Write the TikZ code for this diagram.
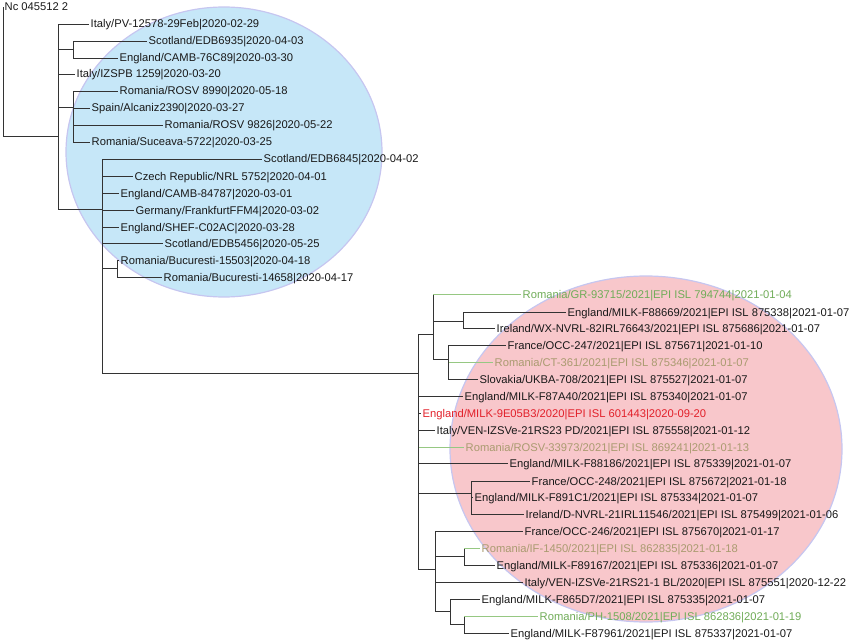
\documentclass[tikz,border=0pt]{standalone}
\usepackage{fontspec}
\setmainfont{Liberation Sans}
\usepackage{tikz}
\definecolor{bluefill}{RGB}{198,231,248}
\definecolor{redfill}{RGB}{248,199,203}
\definecolor{rimcol}{RGB}{198,198,240}
\definecolor{leafgreen}{RGB}{112,172,88}
\definecolor{leaftan}{RGB}{170,155,112}
\definecolor{leafred}{RGB}{226,32,42}
\definecolor{linegreen}{RGB}{150,200,130}

\begin{document}
\begin{tikzpicture}[x=1pt, y=-1pt,
        leaf/.style={anchor=west, inner xsep=1.5pt, inner ysep=0pt, text height=8pt, text depth=0pt, font=\fontsize{11.2}{13}\selectfont, text=black!90},
        branch/.style={draw=black!80, line width=0.7pt},
        greenbranch/.style={draw=linegreen, line width=0.7pt}]
        \useasboundingbox (0, 0) rectangle (850, 639);
        % the two clusters
        \draw [fill=bluefill, draw=rimcol, line width=1.2pt] (224, 152) ellipse [x radius=158pt, y radius=145pt];
        \draw [fill=redfill, draw=rimcol, line width=1.2pt] (646, 449) ellipse [x radius=196pt, y radius=173pt];
        % inner nodes
        \coordinate (N0) at (3, 72);
        \coordinate (N1) at (58, 136);
        \coordinate (N2) at (73, 49);
        \coordinate (N3) at (73, 107);
        \coordinate (N4) at (102, 209);
        \coordinate (N6) at (117, 268);
        \coordinate (N7) at (418, 373);
        \coordinate (N8) at (433, 334);
        \coordinate (N9) at (463, 321);
        \coordinate (N10) at (448, 359);
        \coordinate (N11) at (471, 493);
        \coordinate (N12) at (435, 569);
        \coordinate (N13) at (464, 556);
        \coordinate (N14) at (450, 611);
        \coordinate (N15) at (464, 624);
        % 2020 leaves
        \node [leaf] (B0) at (3, 7) {Nc 045512 2};
        \node [leaf] (B1) at (89, 24) {Italy/PV-12578-29Feb|2020-02-29};
        \node [leaf] (B2) at (147, 41) {Scotland/EDB6935|2020-04-03};
        \node [leaf] (B3) at (118, 58) {England/CAMB-76C89|2020-03-30};
        \node [leaf] (B4) at (75, 74) {Italy/IZSPB 1259|2020-03-20};
        \node [leaf] (B5) at (118, 91) {Romania/ROSV 8990|2020-05-18};
        \node [leaf] (B6) at (90, 108) {Spain/Alcaniz2390|2020-03-27};
        \node [leaf] (B7) at (163, 125) {Romania/ROSV 9826|2020-05-22};
        \node [leaf] (B8) at (90, 142) {Romania/Suceava-5722|2020-03-25};
        \node [leaf] (B9) at (262, 159) {Scotland/EDB6845|2020-04-02};
        \node [leaf] (B10) at (133, 176) {Czech Republic/NRL 5752|2020-04-01};
        \node [leaf] (B11) at (119, 193) {England/CAMB-84787|2020-03-01};
        \node [leaf] (B12) at (134, 210) {Germany/FrankfurtFFM4|2020-03-02};
        \node [leaf] (B13) at (119, 227) {England/SHEF-C02AC|2020-03-28};
        \node [leaf] (B14) at (163, 243) {Scotland/EDB5456|2020-05-25};
        \node [leaf] (B15) at (119, 260) {Romania/Bucuresti-15503|2020-04-18};
        \node [leaf] (B16) at (162, 277) {Romania/Bucuresti-14658|2020-04-17};
        % 2021 leaves
        \node [leaf, text=leafgreen] (R1) at (521, 294) {Romania/GR-93715/2021|EPI ISL 794744|2021-01-04};
        \node [leaf] (R2) at (566, 312) {England/MILK-F88669/2021|EPI ISL 875338|2021-01-07};
        \node [leaf] (R3) at (495, 328) {Ireland/WX-NVRL-82IRL76643/2021|EPI ISL 875686|2021-01-07};
        \node [leaf] (R4) at (506, 345) {France/OCC-247/2021|EPI ISL 875671|2021-01-10};
        \node [leaf, text=leaftan] (R5) at (493, 362) {Romania/CT-361/2021|EPI ISL 875346|2021-01-07};
        \node [leaf] (R6) at (478, 379) {Slovakia/UKBA-708/2021|EPI ISL 875527|2021-01-07};
        \node [leaf] (R7) at (463, 396) {England/MILK-F87A40/2021|EPI ISL 875340|2021-01-07};
        \node [leaf, text=leafred] (R8) at (421, 413) {England/MILK-9E05B3/2020|EPI ISL 601443|2020-09-20};
        \node [leaf] (R9) at (435, 430) {Italy/VEN-IZSVe-21RS23 PD/2021|EPI ISL 875558|2021-01-12};
        \node [leaf, text=leaftan] (R10) at (464, 447) {Romania/ROSV-33973/2021|EPI ISL 869241|2021-01-13};
        \node [leaf] (R11) at (508, 463) {England/MILK-F88186/2021|EPI ISL 875339|2021-01-07};
        \node [leaf] (R12) at (530, 481) {France/OCC-248/2021|EPI ISL 875672|2021-01-18};
        \node [leaf] (R13) at (473, 497) {England/MILK-F891C1/2021|EPI ISL 875334|2021-01-07};
        \node [leaf] (R14) at (524, 514) {Ireland/D-NVRL-21IRL11546/2021|EPI ISL 875499|2021-01-06};
        \node [leaf] (R15) at (523, 531) {France/OCC-246/2021|EPI ISL 875670|2021-01-17};
        \node [leaf, text=leaftan] (R16) at (480, 548) {Romania/IF-1450/2021|EPI ISL 862835|2021-01-18};
        \node [leaf] (R17) at (495, 565) {England/MILK-F89167/2021|EPI ISL 875336|2021-01-07};
        \node [leaf] (R18) at (523, 582) {Italy/VEN-IZSVe-21RS21-1 BL/2020|EPI ISL 875551|2020-12-22};
        \node [leaf] (R19) at (480, 599) {England/MILK-F865D7/2021|EPI ISL 875335|2021-01-07};
        \node [leaf, text=leafgreen] (R20) at (538, 616) {Romania/PH-1508/2021|EPI ISL 862836|2021-01-19};
        \node [leaf] (R21) at (509, 633) {England/MILK-F87961/2021|EPI ISL 875337|2021-01-07};
        % branches
        \draw [branch] (N0) |- (B0.west);
        \draw [branch] (N0) |- (N1);
        \draw [branch] (N1) |- (B1.west);
        \draw [branch] (N1) |- (N2);
        \draw [branch] (N2) |- (B2.west);
        \draw [branch] (N2) |- (B3.west);
        \draw [branch] (N1) |- (B4.west);
        \draw [branch] (N1) |- (N3);
        \draw [branch] (N3) |- (B5.west);
        \draw [branch] (N3) |- (B6.west);
        \draw [branch] (N3) |- (B7.west);
        \draw [branch] (N3) |- (B8.west);
        \draw [branch] (N1) |- (N4);
        \draw [branch] (N4) |- (B9.west);
        \draw [branch] (N4) |- (B10.west);
        \draw [branch] (N4) |- (B11.west);
        \draw [branch] (N4) |- (B12.west);
        \draw [branch] (N4) |- (B13.west);
        \draw [branch] (N4) |- (B14.west);
        \draw [branch] (N4) |- (N6);
        \draw [branch] (N6) |- (B15.west);
        \draw [branch] (N6) |- (B16.west);
        \draw [branch] (N4) |- (N7);
        \draw [branch] (N7) |- (N8);
        \draw [branch] (N8) |- (R1.west);
        \draw [greenbranch] (R1.west -| N8) -- (R1.west);
        \draw [branch] (N8) |- (N9);
        \draw [branch] (N9) |- (R2.west);
        \draw [branch] (N9) |- (R3.west);
        \draw [branch] (N8) |- (N10);
        \draw [branch] (N10) |- (R4.west);
        \draw [branch] (N10) |- (R5.west);
        \draw [greenbranch] (R5.west -| N10) -- (R5.west);
        \draw [branch] (N10) |- (R6.west);
        \draw [branch] (N7) |- (R7.west);
        \draw [branch] (N7) |- (R8.west);
        \draw [branch] (N7) |- (R9.west);
        \draw [branch] (N7) |- (R10.west);
        \draw [greenbranch] (R10.west -| N7) -- (R10.west);
        \draw [branch] (N7) |- (R11.west);
        \draw [branch] (N7) |- (N11);
        \draw [branch] (N11) |- (R12.west);
        \draw [branch] (N11) |- (R13.west);
        \draw [branch] (N11) |- (R14.west);
        \draw [branch] (N7) |- (N12);
        \draw [branch] (N12) |- (R15.west);
        \draw [branch] (N12) |- (N13);
        \draw [branch] (N13) |- (R16.west);
        \draw [greenbranch] (R16.west -| N13) -- (R16.west);
        \draw [branch] (N13) |- (R17.west);
        \draw [branch] (N12) |- (R18.west);
        \draw [branch] (N12) |- (N14);
        \draw [branch] (N14) |- (R19.west);
        \draw [branch] (N14) |- (N15);
        \draw [branch] (N15) |- (R20.west);
        \draw [greenbranch] (R20.west -| N15) -- (R20.west);
        \draw [branch] (N15) |- (R21.west);
\end{tikzpicture}
\end{document}
